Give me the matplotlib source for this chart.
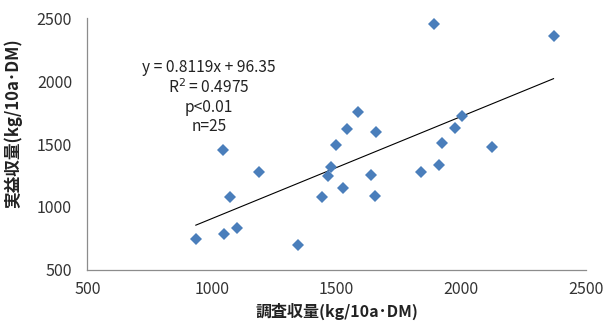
import matplotlib
matplotlib.use('Agg')
import matplotlib.pyplot as plt
import numpy as np

plt.rcParams['font.family'] = ['Noto Sans CJK JP', 'DejaVu Sans']

survey_yield = [935, 1046, 1049, 1073, 1099, 1190, 1344, 1441, 1467, 1478,
                1498, 1527, 1543, 1584, 1636, 1652, 1656, 1840, 1891, 1911,
                1923, 1974, 2002, 2125, 2370]
actual_yield = [745, 1450, 785, 1083, 830, 1278, 700, 1078, 1250, 1320,
                1494, 1155, 1623, 1758, 1252, 1085, 1595, 1278, 2455, 1334,
                1512, 1629, 1727, 1480, 2360]

slope = 0.8119
intercept = 96.35
stats_text = 'y = 0.8119x + 96.35\nR$^2$ = 0.4975\np<0.01\nn=25'

x_ticks = [500, 1000, 1500, 2000, 2500]
y_ticks = [500, 1000, 1500, 2000, 2500]

fig = plt.figure(figsize=(6.11, 3.34), dpi=100)
ax = fig.add_axes([0.143, 0.192, 0.816, 0.753])

ax.plot(survey_yield, actual_yield, 'D', color='#4A7EBB', markersize=6.5,
        markeredgewidth=0, zorder=3)

# trend line over the data range
xs = np.array([min(survey_yield), max(survey_yield)])
ax.plot(xs, slope * xs + intercept, color='black', linewidth=0.8, zorder=2)

ax.text(988, 2175, stats_text, ha='center', va='top', fontsize=11.2,
        linespacing=1.15, color='#222222')

ax.set_xlim(500, 2500)
ax.set_ylim(500, 2500)
ax.set_xticks(x_ticks)
ax.set_yticks(y_ticks)
ax.tick_params(length=0, labelsize=11.5, labelcolor='#333333')
ax.tick_params(axis='x', pad=8)
ax.tick_params(axis='y', pad=11)

for s in ['top', 'right']:
    ax.spines[s].set_visible(False)
for s in ['left', 'bottom']:
    ax.spines[s].set_color('#8C8C8C')
    ax.spines[s].set_linewidth(0.9)

ax.set_xlabel('調査収量(kg/10a･DM)', fontsize=11.5, fontweight='bold', color='#222222')
ax.set_ylabel('実益収量(kg/10a･DM)', fontsize=12, fontweight='bold', color='#222222')
ax.xaxis.set_label_coords(0.5, -0.13)
ax.yaxis.set_label_coords(-0.13, 0.585)

fig.savefig('out.png', dpi=100)
